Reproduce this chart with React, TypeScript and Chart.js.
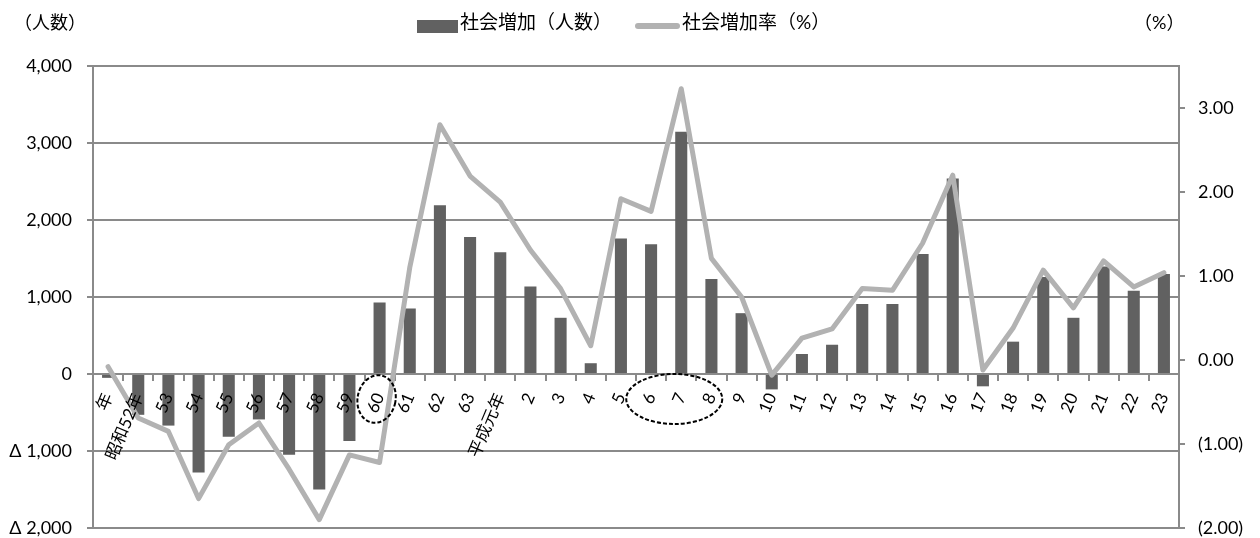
import React, { useEffect, useRef } from 'react';
import { Chart, registerables } from 'chart.js';

Chart.register(...registerables);

const categories = ['年', '昭和52年', '53', '54', '55', '56', '57', '58', '59', '60', '61', '62', '63', '平成元年', '2', '3', '4', '5', '6', '7', '8', '9', '10', '11', '12', '13', '14', '15', '16', '17', '18', '19', '20', '21', '22', '23'];

const socialIncrease = [-50, -530, -670, -1280, -815, -590, -1050, -1500, -870, 930, 850, 2190, 1780, 1580, 1135, 730, 140, 1760, 1685, 3145, 1235, 790, -200, 260, 380, 910, 910, 1560, 2540, -160, 420, 1260, 730, 1395, 1080, 1300];

const socialIncreaseRate = [-0.08, -0.69, -0.85, -1.65, -1.01, -0.75, -1.3, -1.9, -1.13, -1.22, 1.1, 2.8, 2.19, 1.88, 1.31, 0.85, 0.17, 1.92, 1.77, 3.23, 1.21, 0.75, -0.18, 0.26, 0.37, 0.85, 0.83, 1.39, 2.2, -0.12, 0.38, 1.07, 0.62, 1.18, 0.87, 1.04];

const leftAxisRange = [-2000, 4000];
const rightAxisRange = [-2, 3.5];

const barLabel = '社会増加（人数）';
const lineLabel = '社会増加率（%）';
const leftTitle = '（人数）';
const rightTitle = '（%）';

const FONT = "Lato, 'Noto Sans CJK JP', sans-serif";
const GRID = '#8a8a8a';
const BAR = '#616161';
const LINE = '#b2b2b2';

const overlayPlugin = {
  id: 'overlay',
  afterDraw(chart: any) {
    const { ctx } = chart;
    const xs = chart.scales.x;
    const ys = chart.scales.y;
    ctx.save();
    ctx.fillStyle = '#000';
    ctx.textBaseline = 'middle';
    ctx.textAlign = 'left';
    ctx.font = `18px ${FONT}`;
    ctx.fillText(leftTitle, 14, 23);
    ctx.fillText(rightTitle, 1134, 23);

    // legend
    ctx.font = `19px ${FONT}`;
    ctx.fillStyle = BAR;
    ctx.fillRect(417, 20, 41, 13);
    ctx.fillStyle = '#000';
    ctx.fillText(barLabel, 460, 23);
    ctx.strokeStyle = LINE;
    ctx.lineWidth = 6;
    ctx.lineCap = 'round';
    ctx.beginPath();
    ctx.moveTo(638, 26);
    ctx.lineTo(677, 26);
    ctx.stroke();
    ctx.fillText(lineLabel, 682, 23);

    // dashed ellipses
    const zeroY = ys.getPixelForValue(0);
    ctx.strokeStyle = '#000';
    ctx.lineWidth = 2;
    ctx.lineCap = 'butt';
    ctx.setLineDash([4, 2]);
    ctx.beginPath();
    ctx.ellipse(xs.getPixelForValue(9) - 3, zeroY + 25, 19, 24, 0.2, 0, Math.PI * 2);
    ctx.stroke();
    ctx.beginPath();
    ctx.ellipse(xs.getPixelForValue(19) - 7, zeroY + 25, 48, 25, 0, 0, Math.PI * 2);
    ctx.stroke();
    ctx.restore();
  },
};

export default function App() {
  const ref = useRef<HTMLCanvasElement | null>(null);

  useEffect(() => {
    if (!ref.current) return;
    const chart = new Chart(ref.current, {
      type: 'bar',
      data: {
        labels: categories,
        datasets: [
          {
            type: 'line',
            label: lineLabel,
            data: socialIncreaseRate,
            yAxisID: 'y1',
            borderColor: LINE,
            backgroundColor: LINE,
            borderWidth: 5,
            pointRadius: 0,
            tension: 0,
            borderCapStyle: 'round',
            borderJoinStyle: 'round',
            order: 0,
          } as any,
          {
            type: 'bar',
            label: barLabel,
            data: socialIncrease,
            yAxisID: 'y',
            backgroundColor: BAR,
            barPercentage: 0.4,
            categoryPercentage: 1,
            order: 1,
          },
        ],
      },
      options: {
        responsive: false,
        animation: false,
        devicePixelRatio: 1,
        layout: { padding: { top: 66, bottom: 10, left: 0, right: 0 } },
        plugins: {
          legend: { display: false },
          tooltip: { enabled: false },
          title: { display: false },
        },
        scales: {
          x: {
            position: { y: 0 } as any,
            offset: true,
            grid: { offset: true, drawOnChartArea: false, drawTicks: true, tickLength: 6, color: GRID, lineWidth: 2 },
            border: { display: true, color: GRID, width: 2 },
            ticks: {
              z: 1,
              autoSkip: false,
              maxRotation: 67,
              minRotation: 67,
              padding: 10,
              color: '#000',
              font: { family: FONT, size: 17 },
            },
            afterFit: (s: any) => {
              s.height = 0;
              s.paddingTop = 0;
              s.paddingBottom = 0;
              s.paddingLeft = 0;
              s.paddingRight = 0;
            },
          },
          y: {
            position: 'left',
            min: leftAxisRange[0],
            max: leftAxisRange[1],
            ticks: {
              stepSize: 1000,
              padding: 15,
              color: '#000',
              font: { family: FONT, size: 18 },
              callback: (v: any) => {
                const n = Number(v);
                const s = Math.abs(n).toLocaleString('en-US');
                return n < 0 ? 'Δ ' + s : s;
              },
            },
            grid: { color: GRID, lineWidth: 2, drawTicks: true, tickLength: 6 },
            border: { display: true, color: GRID, width: 2 },
            afterFit: (s: any) => {
              s.width = 93;
              s.paddingTop = 0;
              s.paddingBottom = 0;
            },
          },
          y1: {
            position: 'right',
            min: rightAxisRange[0],
            max: rightAxisRange[1],
            ticks: {
              stepSize: 1,
              includeBounds: false,
              padding: 13,
              color: '#000',
              font: { family: FONT, size: 18 },
              callback: (v: any) => {
                const n = Number(v);
                return n < 0 ? `(${Math.abs(n).toFixed(2)})` : n.toFixed(2);
              },
            },
            grid: { drawOnChartArea: false, drawTicks: true, tickLength: 6, color: GRID, lineWidth: 2 },
            border: { display: true, color: GRID, width: 2 },
            afterFit: (s: any) => {
              s.width = 81;
              s.paddingTop = 0;
              s.paddingBottom = 0;
            },
          },
        },
      } as any,
      plugins: [overlayPlugin],
    });
    return () => chart.destroy();
  }, []);

  return (
    <div style={{ position: 'absolute', left: 0, top: 0, width: 1260, height: 538, background: '#fff' }}>
      <canvas ref={ref} width={1260} height={538} style={{ display: 'block' }} />
    </div>
  );
}
